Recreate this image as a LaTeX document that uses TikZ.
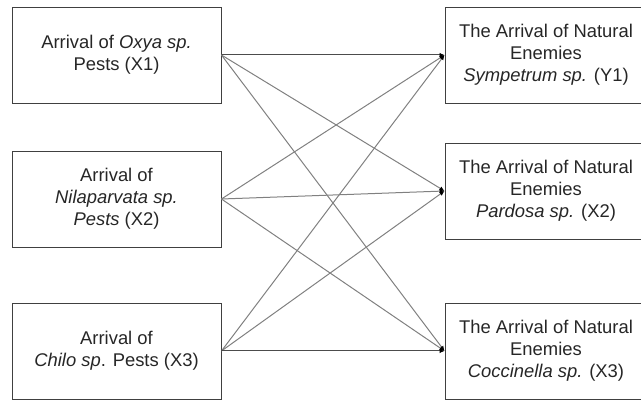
\documentclass[tikz,border=0pt]{standalone}
\usepackage{fontspec}
\setmainfont{Liberation Sans}
\usetikzlibrary{arrows.meta}
\begin{document}
\begin{tikzpicture}[x=1pt,y=-1pt,
  box/.style={draw=black!75,line width=0.9pt,inner sep=0pt,align=center,
    text=black!85,font=\fontsize{18.4}{22}\selectfont},
  lbox/.style={box,minimum width=209pt,minimum height=96pt},
  rbox/.style={box,minimum width=202pt,minimum height=96pt},
  link/.style={draw=black!50,line width=1pt,-{Latex[length=5pt,width=4.5pt,black]}},
  hlink/.style={link,draw=black!70}]
\useasboundingbox (0,0) rectangle (641,401);
\node[lbox] (x1) at (116.5,55) {Arrival of \textit{Oxya sp.}\\Pests (X1)};
\node[lbox] (x2) at (116.5,199) {Arrival of\\\textit{Nilaparvata sp.}\\\textit{Pests} (X2)};
\node[lbox] (x3) at (116.5,351) {Arrival of\\\textit{Chilo sp}. Pests (X3)};
\node[rbox] (y1) at (546,55) {The Arrival of Natural\\Enemies\\\textit{Sympetrum sp.} (Y1)};
\node[rbox] (y2) at (546,191) {The Arrival of Natural\\Enemies\\\textit{Pardosa sp.} (X2)};
\node[rbox] (y3) at (546,351) {The Arrival of Natural\\Enemies\\\textit{Coccinella sp.} (X3)};
\draw[hlink] (x1.east) -- (y1.west);
\draw[link] (x1.east) -- (y2.west);
\draw[link] (x1.east) -- (y3.west);
\draw[link] (x2.east) -- (y1.west);
\draw[link] (x2.east) -- (y2.west);
\draw[link] (x2.east) -- (y3.west);
\draw[link] (x3.east) -- (y1.west);
\draw[link] (x3.east) -- (y2.west);
\draw[hlink] (x3.east) -- (y3.west);
\end{tikzpicture}
\end{document}
